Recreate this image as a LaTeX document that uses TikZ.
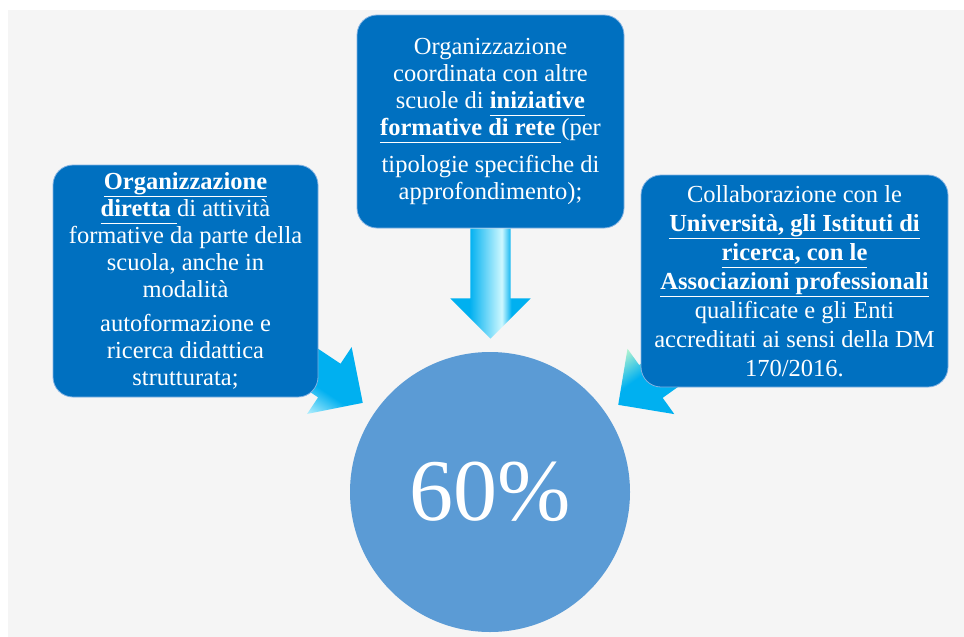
\documentclass[tikz,border=0pt]{standalone}
\usepackage{fontspec}
\setmainfont{Liberation Serif}
\usepackage{tikz}
\usetikzlibrary{shapes.arrows}

\definecolor{sfondo}{RGB}{245,245,245}
\definecolor{blubox}{RGB}{0,112,192}
\definecolor{bordobox}{RGB}{130,178,226}
\definecolor{blucerchio}{RGB}{91,155,213}
\definecolor{ciano}{RGB}{0,176,240}
\definecolor{cianochiaro}{RGB}{205,248,255}
\definecolor{verdechiaro}{RGB}{195,250,205}

\pgfdeclarehorizontalshading{strisciaT}{100bp}{color(0bp)=(ciano); color(37bp)=(ciano); color(57bp)=(cianochiaro); color(63bp)=(ciano); color(100bp)=(ciano)}
\pgfdeclarehorizontalshading{latoL}{100bp}{color(0bp)=(cianochiaro); color(30bp)=(cianochiaro); color(45bp)=(ciano); color(100bp)=(ciano)}
\pgfdeclarehorizontalshading{latoR}{100bp}{color(0bp)=(verdechiaro); color(30bp)=(verdechiaro); color(45bp)=(ciano); color(100bp)=(ciano)}

\newcommand{\sottolineato}[1]{\underline{#1\vphantom{g}}}

\begin{document}
\begin{tikzpicture}[x=1pt, y=-1pt,
		riquadro/.style={draw=bordobox, line width=0.8pt, fill=blubox, rounded corners=20pt, text=white, align=center, inner sep=0pt, font=\fontsize{24.5}{27}\selectfont},
		freccia/.style={single arrow, draw=none, minimum height=#1, inner xsep=0pt, inner ysep=20pt, single arrow head extend=20pt},
	]
	\useasboundingbox (0,0) rectangle (964,637);
	\fill[white] (0,0) rectangle (964,637);
	\fill[sfondo] (8,10) rectangle (964,637);

	\coordinate (puntaL) at (363,403);
	\coordinate (puntaR) at (618,405);

	% frecce laterali, sotto i riquadri
	\node[freccia=130, shading=latoL, shading angle=56.3, rotate=-33.7, anchor=tip] (frL) at (puntaL) {};
	\node[freccia=130, shading=latoR, shading angle=-54.4, rotate=-144.4, anchor=tip] (frR) at (puntaR) {};

	\node[riquadro, minimum width=265, minimum height=232] (diretta) at (185.5,281) {\sottolineato{\textbf{Organizzazione}}\\ \sottolineato{\textbf{diretta}\ }di attività\\ formative da parte della\\ scuola, anche in\\ modalità\\[7pt] autoformazione e\\ ricerca didattica\\ strutturata;};
	\node[riquadro, minimum width=267, minimum height=213] (rete) at (490.5,121.5) {Organizzazione\\ coordinata con altre\\ scuole di \sottolineato{\textbf{iniziative}}\\ \sottolineato{\textbf{formative di rete}\ }(per\\[10pt] tipologie specifiche di\\ approfondimento);};
	\node[riquadro, minimum width=307, minimum height=212, font=\fontsize{24.5}{29}\selectfont] (univ) at (794.5,281) {Collaborazione con le\\ \sottolineato{\textbf{Università, gli Istituti di}}\\ \sottolineato{\textbf{ricerca, con le}}\\ \sottolineato{\textbf{Associazioni professionali}}\\ qualificate e gli Enti\\ accreditati ai sensi della DM\\ 170/2016.};

	% freccia dall'alto
	\node[freccia=110, shading=strisciaT, rotate=-90, anchor=tail] (frT) at (rete.south) {};

	\node[circle, fill=blucerchio, minimum size=280, inner sep=0pt, text=white, font=\fontsize{88}{88}\selectfont] (centro) at (490,492) {60\%};
\end{tikzpicture}
\end{document}
